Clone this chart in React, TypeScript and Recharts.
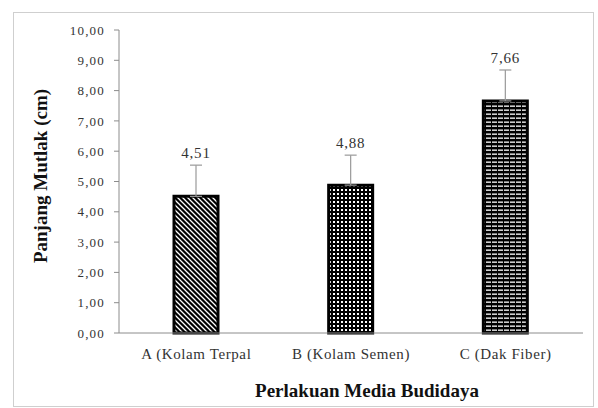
import React from "react";
import { Bar, BarChart, ErrorBar, LabelList, XAxis, YAxis } from "recharts";

const categories = ["A (Kolam Terpal", "B (Kolam Semen)", "C (Dak Fiber)"];
const means = [4.51, 4.88, 7.66];
const errors = [1.03, 0.99, 1.02];
const yTicks = [0, 1, 2, 3, 4, 5, 6, 7, 8, 9, 10];
const patterns = ["url(#pDiag)", "url(#pDots)", "url(#pHoriz)"];

const SERIF = '"Liberation Serif", "Times New Roman", serif';
const fmt = (v: number) => v.toFixed(2).replace(".", ",");

const data = categories.map((name, i) => ({
  name,
  value: means[i],
  err: [0, errors[i]],
  fill: patterns[i],
}));

function ValueLabel(props: any) {
  const { x, y, width, height, value, index } = props;
  const pxPerUnit = height / value;
  const capY = y - errors[index] * pxPerUnit;
  return (
    <text
      x={x + width / 2}
      y={capY - 7}
      textAnchor="middle"
      style={{ fontFamily: SERIF, fontSize: 15, letterSpacing: 0.8 }}
      fill="#333"
    >
      {fmt(value)}
    </text>
  );
}

export default function App() {
  return (
    <div
      style={{
        position: "absolute",
        left: 0,
        top: 0,
        width: 598,
        height: 408,
        background: "#fff",
        fontFamily: SERIF,
      }}
    >
      <div
        style={{
          position: "absolute",
          left: 13,
          top: 12,
          width: 579,
          height: 393,
          border: "1px solid #cfcfcf",
        }}
      />
      <div style={{ position: "absolute", left: 0, top: 0 }}>
        <BarChart
          width={598}
          height={408}
          data={data}
          margin={{ top: 30, right: 15, left: 59, bottom: 35 }}
          style={{ fontFamily: SERIF }}
        >
          <defs>
            <pattern id="pDiag" width="5" height="5" patternUnits="userSpaceOnUse">
              <rect width="5" height="5" fill="#000" />
              <path d="M0,0 L5,5 M-1,4 L1,6 M4,-1 L6,1" stroke="#fff" strokeWidth="1.3" />
            </pattern>
            <pattern id="pDots" width="4" height="4" patternUnits="userSpaceOnUse">
              <rect width="4" height="4" fill="#000" />
              <rect x="1" y="1" width="2" height="2" fill="#fff" />
            </pattern>
            <pattern id="pHoriz" width="6" height="4" patternUnits="userSpaceOnUse">
              <rect width="6" height="4" fill="#000" />
              <rect x="0" y="1.5" width="5" height="1.3" fill="#fff" />
            </pattern>
          </defs>
          <XAxis
            dataKey="name"
            height={40}
            tickLine={false}
            axisLine={{ stroke: "#8c8c8c" }}
            tickMargin={9}
            tick={{ fill: "#333", fontSize: 15, style: { fontFamily: SERIF, letterSpacing: 0.6 } }}
          />
          <YAxis
            domain={[0, 10]}
            ticks={yTicks}
            interval={0}
            width={60}
            tickSize={5}
            tickMargin={9}
            tickFormatter={fmt}
            axisLine={{ stroke: "#8c8c8c" }}
            tickLine={{ stroke: "#8c8c8c" }}
            tick={{ fill: "#333", fontSize: 13, style: { fontFamily: SERIF, letterSpacing: 1.2 } }}
          />
          <Bar
            dataKey="value"
            barSize={44}
            stroke="#000"
            strokeWidth={3}
            isAnimationActive={false}
          >
            <ErrorBar dataKey="err" width={6} stroke="#999" strokeWidth={1.2} direction="y" />
            <LabelList dataKey="value" content={ValueLabel} />
          </Bar>
          <text
            x={40}
            y={176}
            transform="rotate(-90 40 176)"
            textAnchor="middle"
            dominantBaseline="central"
            style={{ fontFamily: SERIF, fontWeight: "bold", fontSize: 19 }}
            fill="#111"
          >
            Panjang Mutlak (cm)
          </text>
          <text
            x={367}
            y={397}
            textAnchor="middle"
            style={{ fontFamily: SERIF, fontWeight: "bold", fontSize: 19 }}
            fill="#111"
          >
            Perlakuan Media Budidaya
          </text>
        </BarChart>
      </div>
    </div>
  );
}
